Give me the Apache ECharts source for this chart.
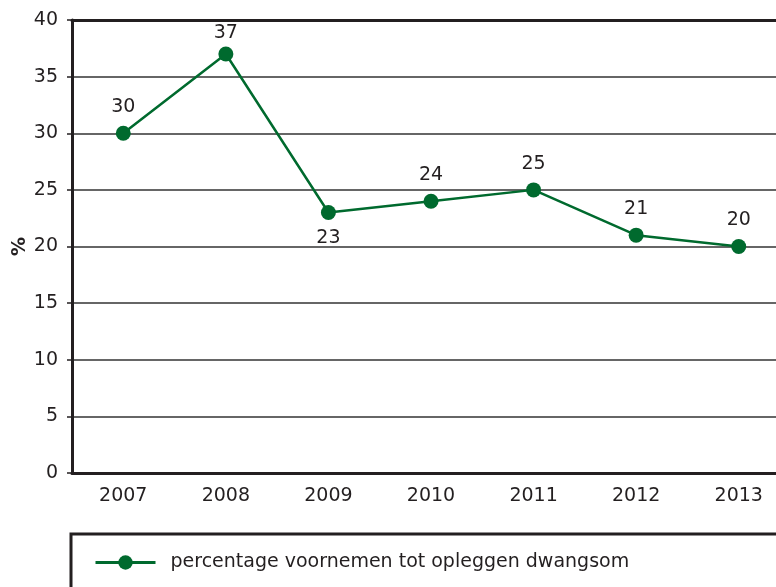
<!DOCTYPE html>
<html style="height: 100%">
<head>
<meta charset="utf-8">
<script src="https://cdn.jsdelivr.net/npm/echarts@6/dist/echarts.min.js"></script>
</head>
<body style="height: 100%; margin: 0; background: #fff">
<div id="container" style="width: 776px; height: 587px"></div>
<script type="text/javascript">
var years = ['2007', '2008', '2009', '2010', '2011', '2012', '2013'];
var percentages = [30, 37, 23, 24, 25, 21, 20];
var labelBelow = [false, false, true, false, false, false, false];
var seriesName = 'percentage voornemen tot opleggen dwangsom';

var textColor = '#231f20';
var green = '#006a2e';
var font = 'DejaVu Sans, Arial, sans-serif';

var chart = echarts.init(document.getElementById('container'));

var option = {
    animation: false,
    backgroundColor: '#fff',
    textStyle: { fontFamily: font },
    grid: { left: 72, top: 20, width: 718, height: 453, outerBoundsMode: 'none', containLabel: false },
    legend: {
        left: 71,
        top: 534,
        orient: 'horizontal',
        data: [seriesName],
        itemWidth: 60,
        itemHeight: 18,
        padding: [19, 800, 40, 23],
        borderColor: textColor,
        borderWidth: 3,
        lineStyle: { width: 3 },
        textStyle: { color: textColor, fontSize: 19, fontFamily: font, padding: [0, 0, 0, 10] }
    },
    xAxis: [{
        type: 'category',
        data: years,
        boundaryGap: true,
        axisLine: { lineStyle: { color: textColor, width: 3 } },
        axisTick: { length: 7, lineStyle: { color: textColor, width: 1.5 } },
        axisLabel: { color: textColor, fontSize: 19, margin: 14 }
    }, {
        type: 'category',
        data: years,
        position: 'top',
        axisLine: { lineStyle: { color: textColor, width: 3 } },
        axisTick: { show: false },
        axisLabel: { show: false }
    }],
    yAxis: {
        type: 'value',
        min: 0,
        max: 40,
        interval: 5,
        name: '%',
        nameLocation: 'middle',
        nameGap: 42,
        nameMoveOverlap: false,
        nameTextStyle: { color: textColor, fontSize: 19, fontWeight: 'bold' },
        axisLine: { show: true, lineStyle: { color: textColor, width: 3 } },
        axisTick: { show: true, length: 5, lineStyle: { color: textColor, width: 1.5 } },
        axisLabel: { color: textColor, fontSize: 19, margin: 14 },
        splitLine: { lineStyle: { color: '#333', width: 1.5 } }
    },
    series: [{
        name: seriesName,
        type: 'line',
        data: percentages.map(function (v, i) {
            return {
                value: v,
                // label near the top edge sits closer to its point
                label: { position: labelBelow[i] ? 'bottom' : 'top', distance: v > 35 ? 4 : 9 }
            };
        }),
        symbol: 'circle',
        symbolSize: 15,
        itemStyle: { color: green },
        lineStyle: { color: green, width: 2.5 },
        label: {
            show: true,
            color: textColor,
            fontSize: 19
        }
    }]
};

chart.setOption(option);
</script>
</body>
</html>
